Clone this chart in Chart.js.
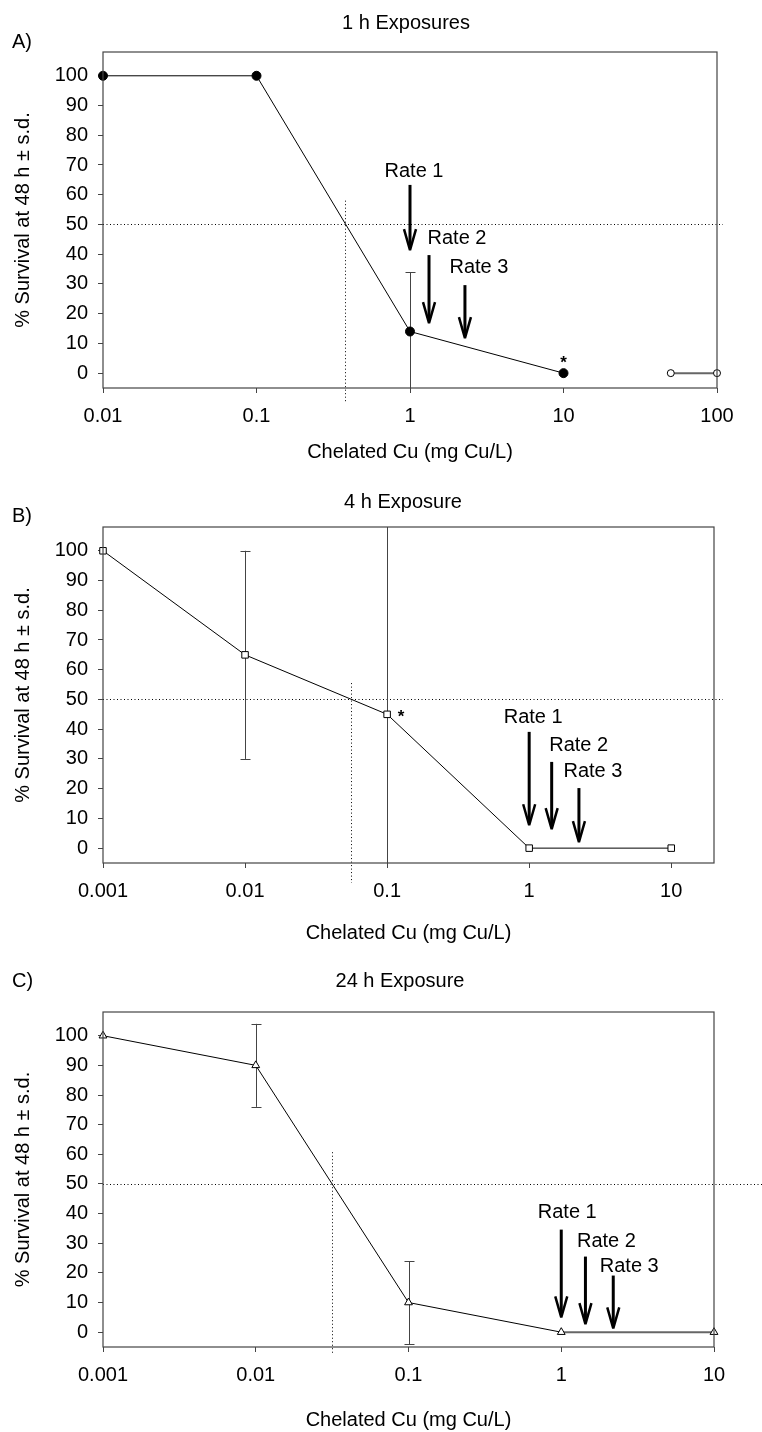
<!DOCTYPE html>
<html>
<head>
<meta charset="utf-8">
<script src="https://cdn.jsdelivr.net/npm/chart.js@4/dist/chart.umd.min.js"></script>
<style>
body{margin:0;background:#fff;}
canvas{position:absolute;left:0;}
</style>
</head>
<body>
<canvas id="chartA" width="762" height="470" style="top:0"></canvas>
<canvas id="chartB" width="762" height="480" style="top:470px"></canvas>
<canvas id="chartC" width="762" height="482" style="top:950px"></canvas>
<script>
// shared axis ticks
const yTicks = [0,10,20,30,40,50,60,70,80,90,100];
const yLabels = ['0','10','20','30','40','50','60','70','80','90','100'];
const rateLabels = ['Rate 1','Rate 2','Rate 3'];

// A) 1 h exposures
const doseA = [0.01, 0.1, 1, 10];
const survA = [100, 100, 14, 0];
const sdA = [0, 0, 20, 0];
const doseA2 = [50, 100];
const survA2 = [0, 0];
const xTicksA = [0.01, 0.1, 1, 10, 100];
const xLabelsA = ['0.01','0.1','1','10','100'];
const lc50A = 0.38;
const rateDoseA = [1, 1.33, 2.28];
const rateTopA = [63.3, 39.7, 29.6];
const rateTipA = [41.4, 16.8, 11.8];

// B) 4 h exposure
const doseB = [0.001, 0.01, 0.1, 1, 10];
const survB = [100, 65, 45, 0, 0];
const sdB = [0, 35, 70, 0, 0];
const xTicksB = [0.001, 0.01, 0.1, 1, 10];
const xLabelsB = ['0.001','0.01','0.1','1','10'];
const lc50B = 0.056;
const rateDoseB = [1, 1.44, 2.24];
const rateTopB = [39.1, 29.0, 20.2];
const rateTipB = [7.7, 6.4, 2.0];

// C) 24 h exposure
const doseC = [0.001, 0.01, 0.1, 1, 10];
const survC = [100, 90, 10, 0, 0];
const sdC = [0, 14, 14, 0, 0];
const xTicksC = [0.001, 0.01, 0.1, 1, 10];
const xLabelsC = ['0.001','0.01','0.1','1','10'];
const lc50C = 0.0316;
const rateDoseC = [1, 1.44, 2.19];
const rateTopC = [34.6, 25.5, 19.1];
const rateTipC = [5.0, 2.7, 1.3];

const FONT = 'Liberation Sans, Arial, sans-serif';

function pts(xs, ys){ return xs.map((x,i)=>({x:x, y:ys[i]})); }

const panelPlugin = {
	id: 'panel',
	beforeDatasetsDraw(chart, args, o){
		const ctx = chart.ctx, a = chart.chartArea;
		const xs = chart.scales.x, ys = chart.scales.y;
		ctx.save();
		// 50% line and LC50 line
		ctx.strokeStyle = '#000';
		ctx.lineWidth = 1;
		ctx.setLineDash([1,2.5]);
		const y50 = Math.round(ys.getPixelForValue(50)) + 0.5;
		ctx.beginPath(); ctx.moveTo(a.left, y50); ctx.lineTo(o.hEnd, y50); ctx.stroke();
		const xl = Math.round(xs.getPixelForValue(o.lc50)) + 0.5;
		ctx.beginPath(); ctx.moveTo(xl, ys.getPixelForValue(o.lcTop)); ctx.lineTo(xl, a.bottom + o.lcBelow); ctx.stroke();
		ctx.setLineDash([]);
		// error bars
		ctx.strokeStyle = '#444';
		o.dose.forEach((d,i)=>{
			const s = o.sd[i];
			if (!s) return;
			const x = Math.round(xs.getPixelForValue(d)) + 0.5;
			const hi = o.surv[i] + s, lo = o.surv[i] - s;
			const yh = Math.max(a.top, ys.getPixelForValue(hi));
			const yl = Math.min(a.bottom, ys.getPixelForValue(lo));
			ctx.beginPath(); ctx.moveTo(x, yh); ctx.lineTo(x, yl); ctx.stroke();
			ctx.beginPath();
			if (yh > a.top) { ctx.moveTo(x-5, Math.round(yh)+0.5); ctx.lineTo(x+5, Math.round(yh)+0.5); }
			if (yl < a.bottom) { ctx.moveTo(x-5, Math.round(yl)+0.5); ctx.lineTo(x+5, Math.round(yl)+0.5); }
			ctx.stroke();
		});
		ctx.restore();
	},
	afterDatasetsDraw(chart, args, o){
		const ctx = chart.ctx, a = chart.chartArea;
		const xs = chart.scales.x, ys = chart.scales.y;
		ctx.save();
		// plot frame
		ctx.strokeStyle = '#444';
		ctx.lineWidth = 1.2;
		ctx.strokeRect(a.left, a.top, a.right - a.left, a.bottom - a.top);
		// arrows
		ctx.strokeStyle = '#000';
		ctx.fillStyle = '#000';
		ctx.font = '20px ' + FONT;
		ctx.textAlign = 'center';
		ctx.textBaseline = 'middle';
		o.rates.forEach((d,i)=>{
			const x = xs.getPixelForValue(d);
			const y0 = ys.getPixelForValue(o.rateTop[i]);
			const y1 = ys.getPixelForValue(o.rateTip[i]);
			ctx.lineWidth = 3;
			ctx.beginPath(); ctx.moveTo(x, y0); ctx.lineTo(x, y1 - 3); ctx.stroke();
			ctx.lineWidth = 2.5;
			ctx.lineJoin = 'bevel';
			ctx.beginPath(); ctx.moveTo(x-6, y1-21); ctx.lineTo(x, y1); ctx.lineTo(x+6, y1-21); ctx.stroke();
			ctx.fillText(rateLabels[i], x + o.labDx[i], y0 + o.labDy[i]);
		});
		// significance mark
		if (o.star) {
			ctx.font = 'bold 17px ' + FONT;
			const sx = xs.getPixelForValue(o.star[0]) + o.star[2];
			const sy = ys.getPixelForValue(o.star[1]) + o.star[3];
			ctx.fillText('*', sx, sy);
		}
		// panel letter and title
		ctx.font = '20px ' + FONT;
		ctx.textAlign = 'left';
		ctx.fillText(o.letter, 12, o.letterY);
		ctx.textAlign = 'center';
		ctx.fillText(o.title, o.titleX, o.titleY);
		ctx.restore();
	}
};

function makeChart(id, cfg){
	const font = {family: FONT, size: 20};
	return new Chart(document.getElementById(id), {
		type: 'scatter',
		data: {datasets: cfg.datasets},
		plugins: [panelPlugin],
		options: {
			responsive: false,
			animation: false,
			layout: {padding: {top: cfg.padTop, left: 0, right: cfg.padRight, bottom: cfg.padBottom}},
			plugins: {
				legend: {display: false},
				tooltip: {enabled: false},
				panel: cfg.panel
			},
			scales: {
				x: {
					type: 'logarithmic',
					min: cfg.xMin, max: cfg.xMax,
					afterBuildTicks: s => { s.ticks = cfg.xTicks.map(v => ({value: v})); },
					afterFit: s => { s.height = cfg.xHeight; },
					ticks: {callback: (v,i) => cfg.xLabels[i], autoSkip: false, maxRotation: 0, padding: 11, color: '#000', font: font},
					grid: {drawOnChartArea: false, tickLength: 5, color: '#444'},
					border: {display: false},
					title: {display: true, text: 'Chelated Cu (mg Cu/L)', color: '#000', font: font, padding: {top: 0, bottom: 0}}
				},
				y: {
					min: -5, max: 108,
					afterBuildTicks: s => { s.ticks = yTicks.map(v => ({value: v})); },
					afterFit: s => { s.width = 103; },
					ticks: {callback: (v,i) => yLabels[i], padding: 10, color: '#000', font: font},
					grid: {drawOnChartArea: false, tickLength: 5, color: '#444'},
					border: {display: false},
					title: {display: true, text: '% Survival at 48 h \u00b1 s.d.', color: '#000', font: font, padding: {top: 11, bottom: 0}}
				}
			}
		}
	});
}

makeChart('chartA', {
	padTop: 52, padRight: 45, padBottom: 6, xHeight: 76,
	xMin: 0.01, xMax: 100, xTicks: xTicksA, xLabels: xLabelsA,
	datasets: [
		{data: pts(doseA, survA), showLine: true, borderColor: '#000', borderWidth: 1,
			pointRadius: 4.5, pointBackgroundColor: '#000', pointBorderColor: '#000', clip: false},
		{data: pts(doseA2, survA2), showLine: true, borderColor: '#666', borderWidth: 2,
			pointRadius: 3.5, pointBackgroundColor: '#fff', pointBorderColor: '#000', pointBorderWidth: 1, clip: false}
	],
	panel: {letter: 'A)', letterY: 42, title: '1 h Exposures', titleX: 406, titleY: 23,
		dose: doseA, surv: survA, sd: sdA, lc50: lc50A, lcTop: 58, lcBelow: 15, hEnd: 723,
		rates: rateDoseA, rateTop: rateTopA, rateTip: rateTipA,
		labDx: [4, 28, 14], labDy: [-13, -17, -18], star: [10, 0, 0, -10]}
});

makeChart('chartB', {
	padTop: 57, padRight: 48, padBottom: 5, xHeight: 82,
	xMin: 0.001, xMax: 20, xTicks: xTicksB, xLabels: xLabelsB,
	datasets: [
		{data: pts(doseB, survB), showLine: true, borderColor: '#000', borderWidth: 1,
			pointStyle: 'rect', pointRadius: 4.6, pointBackgroundColor: '#fff', pointBorderColor: '#000', pointBorderWidth: 1, clip: false}
	],
	panel: {letter: 'B)', letterY: 46, title: '4 h Exposure', titleX: 403, titleY: 32,
		dose: doseB, surv: survB, sd: sdB, lc50: lc50B, lcTop: 55.5, lcBelow: 20, hEnd: 723,
		rates: rateDoseB, rateTop: rateTopB, rateTip: rateTipB,
		labDx: [4, 27, 14], labDy: [-14, -16, -17], star: [0.1, 45, 14, 3]}
});

makeChart('chartC', {
	padTop: 62, padRight: 48, padBottom: 0, xHeight: 85,
	xMin: 0.001, xMax: 10, xTicks: xTicksC, xLabels: xLabelsC,
	datasets: [
		{data: pts(doseC, survC), showLine: true, borderColor: '#000', borderWidth: 1,
			segment: {
				borderColor: c => c.p0DataIndex === 3 ? '#666' : undefined,
				borderWidth: c => c.p0DataIndex === 3 ? 2 : undefined
			},
			pointStyle: 'triangle', pointRadius: 4.5, pointBackgroundColor: '#fff', pointBorderColor: '#000', pointBorderWidth: 1, clip: false}
	],
	panel: {letter: 'C)', letterY: 31, title: '24 h Exposure', titleX: 400, titleY: 31,
		dose: doseC, surv: survC, sd: sdC, lc50: lc50C, lcTop: 60.7, lcBelow: 7, hEnd: 762,
		rates: rateDoseC, rateTop: rateTopC, rateTip: rateTipC,
		labDx: [6, 21, 16], labDy: [-17, -15, -9], star: null}
});
</script>
</body>
</html>
